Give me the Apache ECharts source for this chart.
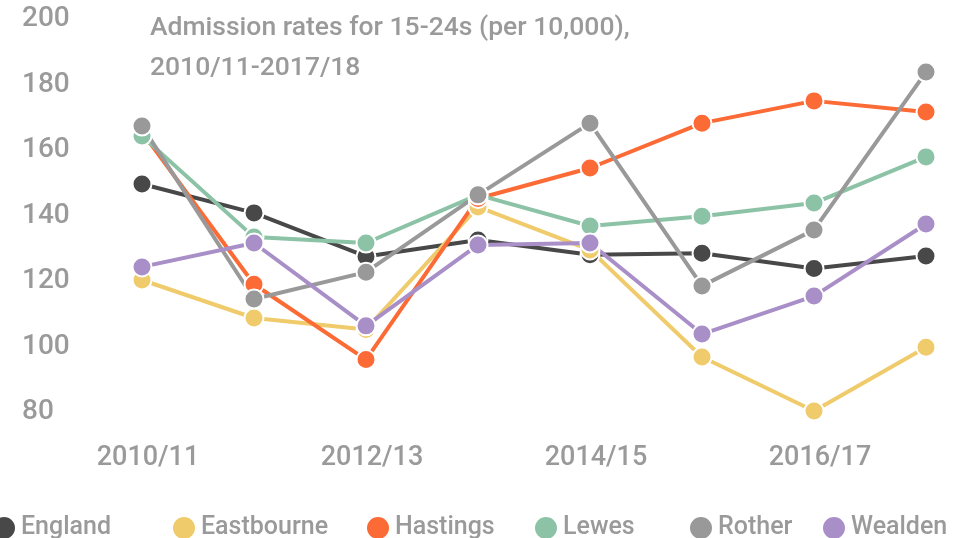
<!DOCTYPE html>
<html><head><meta charset="utf-8">
<script src="https://cdn.jsdelivr.net/npm/echarts@6/dist/echarts.min.js"></script>
<style>html,body{margin:0;padding:0;background:#fff}#c{width:976px;height:538px}</style>
</head><body><div id="c"></div>
<script>
const categories = ['2010/11','2011/12','2012/13','2013/14','2014/15','2015/16','2016/17','2017/18'];
const england    = [149.6, 140.8, 127.5, 132.5, 128, 128.5, 123.8, 127.6];
const eastbourne = [120.3, 108.7, 105.2, 142.6, 129.5, 96.8, 80.3, 99.8];
const hastings   = [165.5, 119, 96, 145.2, 154.5, 168.2, 175, 171.6];
const lewes      = [164.3, 133.4, 131.6, 146.3, 136.8, 139.8, 143.8, 157.9];
const rother     = [167.3, 114.5, 122.7, 146.3, 168.2, 118.5, 135.6, 183.8];
const wealden    = [124.3, 131.6, 106.3, 131, 131.6, 103.8, 115.4, 137.4];
const yTicks = {min: 80, max: 200, interval: 20};
const titleText = 'Admission rates for 15-24s (per 10,000),\n2010/11-2017/18';

const names = ['England','Eastbourne','Hastings','Lewes','Rother','Wealden'];
const values = [england, eastbourne, hastings, lewes, rother, wealden];
const colors = ['#484848','#f0cb6b','#fc6a35','#8cc3a6','#999999','#a98fc7'];
const legendLeft = [-14, 166, 360, 528, 683, 816];
const grey = '#9a9a9a';
const FONT = 'Roboto';

const chart = echarts.init(document.getElementById('c'), null, {renderer:'canvas'});
chart.setOption({
  animation: false,
  textStyle: {fontFamily: FONT},
  title: {
    text: titleText, left: 145, top: 3,
    textStyle: {color: grey, fontSize: 26.5, fontWeight: 500, fontFamily: FONT, lineHeight: 40}
  },
  legend: names.map((n, i) => ({
    data: [n], left: legendLeft[i], top: 510, icon: 'circle',
    itemWidth: 24, itemHeight: 24, itemGap: 0,
    textStyle: {color: grey, fontSize: 25, fontWeight: 500, fontFamily: FONT}
  })),
  grid: {left: 142, right: 50, top: 19, bottom: 126, containLabel: false},
  xAxis: {
    type: 'category', data: categories, boundaryGap: false,
    axisLine: {show: false}, axisTick: {show: false}, splitLine: {show: false},
    axisLabel: {color: grey, fontSize: 27, fontWeight: 500, fontFamily: FONT, interval: 1, margin: 33, padding: [0,0,0,12]}
  },
  yAxis: {
    type: 'value', min: yTicks.min, max: yTicks.max, interval: yTicks.interval,
    axisLine: {show: false}, axisTick: {show: false}, splitLine: {show: false},
    axisLabel: {color: grey, fontSize: 28, fontWeight: 500, fontFamily: FONT, margin: 120, align: 'left'}
  },
  series: names.map((n, i) => ({
    name: n, type: 'line', data: values[i],
    color: colors[i],
    symbol: 'circle', symbolSize: 19,
    lineStyle: {width: 4, color: colors[i]},
    itemStyle: {color: colors[i], borderColor: '#fff', borderWidth: 2},
    emphasis: {disabled: true}
  }))
});
</script></body></html>
